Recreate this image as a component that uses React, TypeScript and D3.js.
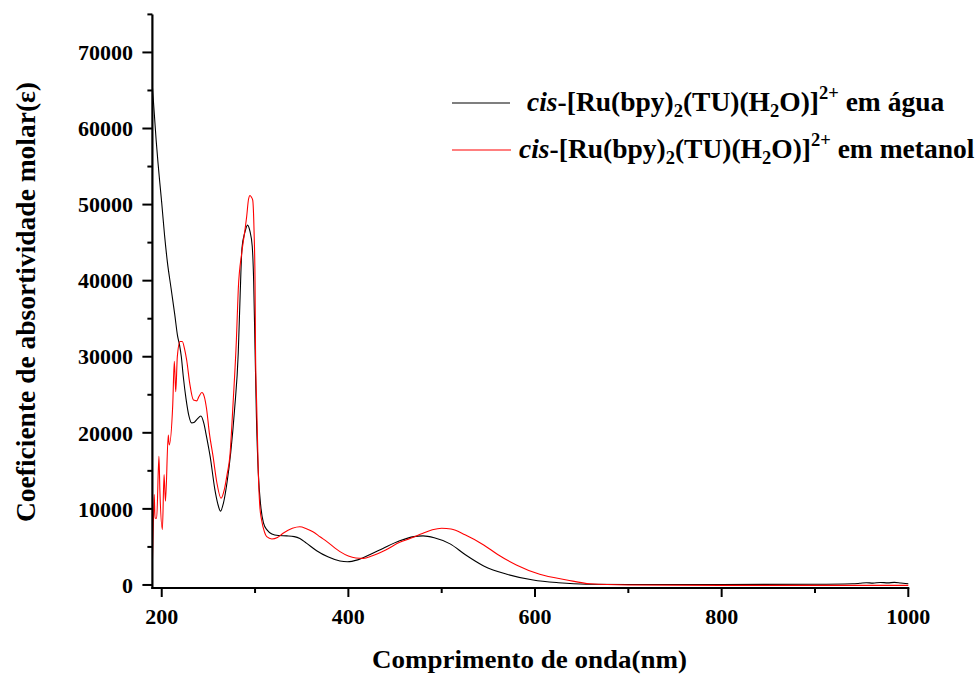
import React from "react";
import * as d3 from "d3";

const W = 978;
const H = 675;

// Wavelength (nm) and molar absorptivity for water
const aguaNm = [190, 192, 194, 196, 198, 200, 203, 206, 210, 214, 217, 219, 221, 223, 226, 229, 232, 235, 238, 242, 245, 248, 252, 257, 260, 263, 266, 270, 274, 278, 282, 284, 286, 289, 292, 294.5, 297, 298.5, 300, 301.5, 303.5, 306, 309, 313, 318, 325, 334, 342, 348, 355, 366, 378, 391, 399, 410, 425, 437, 455, 470, 480, 492, 509, 525, 545, 570, 598, 625, 655, 700, 800, 900, 940, 948, 955, 962, 970, 978, 985, 992, 1000];
const aguaEps = [65500, 62000, 58500, 55500, 52800, 50200, 46000, 42500, 39000, 35500, 32700, 31600, 30000, 27500, 24500, 22300, 21300, 21400, 21800, 22200, 21300, 19500, 16800, 12500, 10700, 9700, 10700, 13500, 17500, 23000, 30500, 38000, 44300, 46300, 47300, 46500, 44500, 40000, 31000, 22000, 14700, 10500, 8150, 7200, 6700, 6500, 6450, 6350, 6100, 5500, 4500, 3700, 3150, 3050, 3300, 4100, 4800, 5800, 6350, 6450, 6200, 5400, 4000, 2500, 1400, 650, 300, 100, 60, 60, 90, 150, 220, 300, 240, 330, 280, 340, 250, 150];

// Wavelength (nm) and molar absorptivity for methanol
const metanolNm = [190, 191, 192, 192.8, 194.6, 197, 198, 200.7, 202.5, 204, 207, 208, 211.8, 213.5, 215, 216.7, 219.6, 222, 224.5, 226.8, 230, 234, 237.5, 240, 243, 245.5, 248, 251, 255, 259, 263.5, 267, 270, 273, 276.5, 280, 282, 285.7, 289, 291, 293, 294.6, 296, 297.5, 299, 300, 300.5, 301.8, 303.5, 305, 307, 310, 312.5, 318, 324, 330, 340, 348, 355, 362, 370, 377, 391, 400, 408, 416, 425, 440, 455, 466, 480, 490, 500, 510, 525, 545, 560, 580, 605, 634, 659, 700, 800, 1000];
const metanolEps = [3000, 8000, 11900, 8770, 8770, 16900, 12500, 7300, 14500, 11000, 19700, 18400, 23700, 29400, 25400, 30000, 32000, 32000, 31000, 29500, 26500, 24300, 24200, 24800, 25300, 24800, 23200, 20000, 16900, 13500, 11400, 12500, 14500, 16900, 24000, 32200, 38800, 43600, 46500, 48400, 50700, 51200, 51000, 50600, 46200, 39700, 30900, 23400, 14700, 10500, 8540, 7000, 6350, 6050, 6250, 6800, 7450, 7650, 7400, 7000, 6300, 5700, 4380, 3800, 3550, 3500, 3800, 4600, 5600, 6100, 6800, 7250, 7450, 7350, 6600, 5260, 4000, 2630, 1400, 660, 150, 0, -60, -60];

const xMajor = [200, 400, 600, 800, 1000];
const xMinor = [300, 500, 700, 900];
const yMajor = [0, 10000, 20000, 30000, 40000, 50000, 60000, 70000];
const yMinor = [5000, 15000, 25000, 35000, 45000, 55000, 65000, 75000];

const xTitle = "Comprimento de onda(nm)";
const yTitle = "Coeficiente de absortividade molar(ε)";

const FONT = "'Liberation Serif', 'Times New Roman', serif";

export default function App() {
  const x = d3.scaleLinear().domain([190, 1000]).range([152.4, 908.3]);
  const y = d3.scaleLinear().domain([-400, 75000]).range([588, 14.4]);

  const line = d3
    .line<[number, number]>()
    .x((d) => x(d[0]))
    .y((d) => y(d[1]))
    .curve(d3.curveMonotoneX);

  const agua = aguaNm.map((n, i) => [n, aguaEps[i]] as [number, number]);
  const metanol = metanolNm.map((n, i) => [n, metanolEps[i]] as [number, number]);

  const x0 = x(190);
  const x1 = x(1000);
  const yb = y(-400);
  const yt = y(75000);

  const legendText = (startX: number, baseY: number, tail: string) => (
    <text x={startX} y={baseY} fontFamily={FONT} fontWeight="bold" fontSize={27.5} fill="#000">
      <tspan fontStyle="italic">cis</tspan>
      <tspan>-[Ru(bpy)</tspan>
      <tspan fontSize={18.5} dy={6}>2</tspan>
      <tspan dy={-6}>(TU)(H</tspan>
      <tspan fontSize={18.5} dy={6}>2</tspan>
      <tspan dy={-6}>O)]</tspan>
      <tspan fontSize={18.5} dy={-12}>2+</tspan>
      <tspan dy={12}>{tail}</tspan>
    </text>
  );

  return (
    <svg
      width={W}
      height={H}
      style={{ position: "absolute", left: 0, top: 0, background: "#fff" }}
    >
      <defs>
        <clipPath id="plotclip">
          <rect x={x0} y={0} width={x1 - x0 + 2} height={yb} />
        </clipPath>
      </defs>
      <rect width={W} height={H} fill="#fff" />

      <g clipPath="url(#plotclip)">
        <path d={line(agua) || ""} fill="none" stroke="#000" strokeWidth={1.1} />
        <path d={line(metanol) || ""} fill="none" stroke="#ff0000" strokeWidth={1.1} />
      </g>

      {/* axes */}
      <line x1={x0} x2={x0} y1={yt} y2={yb + 1} stroke="#000" strokeWidth={2.2} />
      <line x1={x0 - 1} x2={x1 + 1} y1={yb} y2={yb} stroke="#000" strokeWidth={2.2} />

      {yMajor.map((v) => (
        <g key={"ym" + v}>
          <line x1={x0 - 10} x2={x0} y1={y(v)} y2={y(v)} stroke="#000" strokeWidth={2} />
          <text
            x={133}
            y={y(v)}
            dy="0.35em"
            textAnchor="end"
            fontFamily={FONT}
            fontWeight="bold"
            fontSize={22}
          >
            {v}
          </text>
        </g>
      ))}
      {yMinor.map((v) => (
        <line key={"yn" + v} x1={x0 - 5} x2={x0} y1={y(v)} y2={y(v)} stroke="#000" strokeWidth={2} />
      ))}
      {xMajor.map((v) => (
        <g key={"xm" + v}>
          <line x1={x(v)} x2={x(v)} y1={yb} y2={yb + 9} stroke="#000" strokeWidth={2} />
          <text
            x={x(v)}
            y={624}
            textAnchor="middle"
            fontFamily={FONT}
            fontWeight="bold"
            fontSize={22}
          >
            {v}
          </text>
        </g>
      ))}
      {xMinor.map((v) => (
        <line key={"xn" + v} x1={x(v)} x2={x(v)} y1={yb} y2={yb + 5} stroke="#000" strokeWidth={2} />
      ))}

      <text
        x={529.5}
        y={668}
        textAnchor="middle"
        fontFamily={FONT}
        fontWeight="bold"
        fontSize={26}
        textLength={315}
        lengthAdjust="spacingAndGlyphs"
      >
        {xTitle}
      </text>
      <text
        transform={`translate(35, 302) rotate(-90)`}
        textAnchor="middle"
        fontFamily={FONT}
        fontWeight="bold"
        fontSize={28}
        textLength={440}
        lengthAdjust="spacingAndGlyphs"
      >
        {yTitle}
      </text>

      {/* legend */}
      <line x1={452} x2={510} y1={103} y2={103} stroke="#000" strokeWidth={1.1} />
      {legendText(527, 111, " em água")}
      <line x1={452} x2={511} y1={150} y2={150} stroke="#ff0000" strokeWidth={1.1} />
      {legendText(519, 158, " em metanol")}
    </svg>
  );
}
